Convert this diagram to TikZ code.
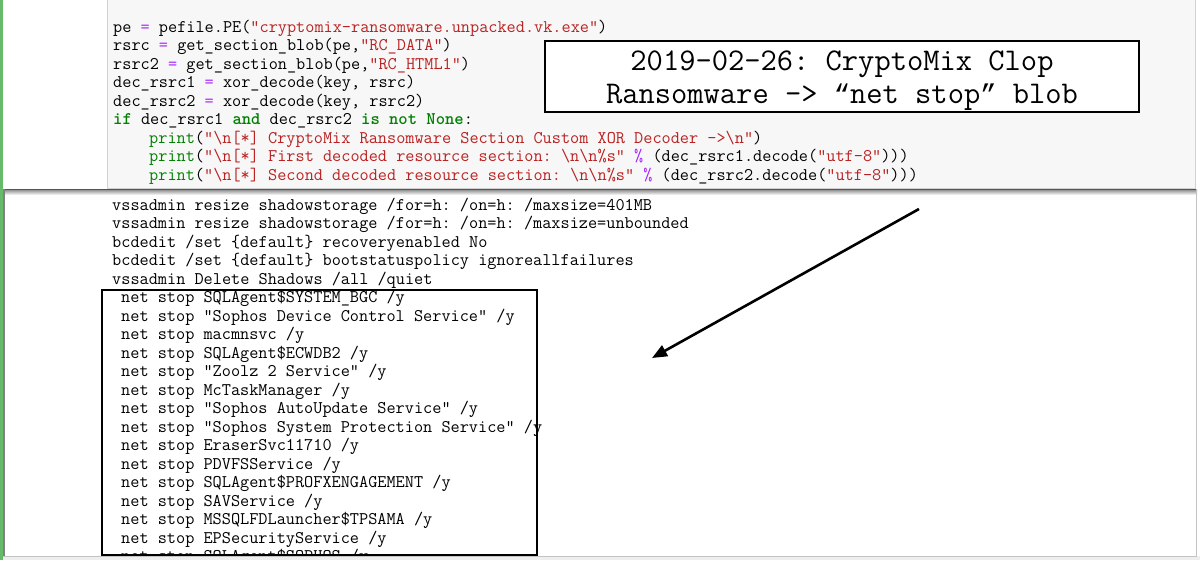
\documentclass[tikz,border=0pt]{standalone}
\usepackage{fontspec}
\newfontfamily\quotefont{Liberation Mono}
\usetikzlibrary{arrows.meta}

\definecolor{cellgreen}{RGB}{102,187,106}
\definecolor{inputbg}{RGB}{247,247,247}
\definecolor{inputline}{RGB}{210,210,210}
\definecolor{shadowdark}{RGB}{85,85,85}
\definecolor{shadowmid}{RGB}{130,130,130}
\definecolor{shadowlight}{RGB}{195,195,195}
\definecolor{stripgray}{RGB}{238,238,238}
\definecolor{pyop}{RGB}{170,34,255}
\definecolor{pystr}{RGB}{186,33,33}
\definecolor{pykw}{RGB}{0,128,0}

\newcommand{\pyop}[1]{\textcolor{pyop}{#1}}
\newcommand{\pystr}[1]{\textcolor{pystr}{#1}}
\newcommand{\pykw}[1]{\textcolor{pykw}{\bfseries #1}}
\newcommand{\pyfn}[1]{\textcolor{pykw}{#1}}
\newcommand{\titlequote}[1]{{\quotefont\fontsize{27.1}{33}\selectfont #1}}

\tikzset{
  codeline/.style={anchor=base west, inner sep=0pt, font=\ttfamily\frenchspacing\fontsize{17.77}{18.5}\selectfont},
  outtext/.style={codeline, text=black},
  titletext/.style={anchor=base, inner sep=0pt, font=\ttfamily\frenchspacing\fontsize{31.6}{33}\selectfont},
  boxline/.style={draw=black, line width=2.7pt},
  pointer/.style={-{Triangle[length=15pt,width=12pt]}, line width=2.6pt}
}

\begin{document}
\begin{tikzpicture}[x=1pt,y=-1pt]
\useasboundingbox (0,0) rectangle (1200,560);
\fill[white] (0,0) rectangle (1200,560);

%notebook cell: green bar, input area, output area
\fill[cellgreen] (0,0) rectangle (2.5,560);
\filldraw[fill=inputbg, draw=inputline] (107,-2) rectangle (1195,188);
\fill[white] (3,189) rectangle (1197,556);
\shade[top color=shadowmid, bottom color=white] (3,189) rectangle (1197,195);
\draw[shadowdark, line width=1.4pt] (3,189.5) -- (1197,189.5);
\draw[shadowmid, line width=1.5pt] (4,189) -- (4,556);
\draw[shadowlight, line width=1pt] (1196.5,189) -- (1196.5,556);
\fill[stripgray] (3,556) rectangle (1200,560);
\draw[shadowlight] (3,556) -- (1197,556);

%input code
\node[codeline] (pe) at (113,32) {pe \pyop{=} pefile.PE(\pystr{"cryptomix-ransomware.unpacked.vk.exe"})};
\node[codeline] (rsrc) at (113,50.5) {rsrc \pyop{=} get\_section\_blob(pe,\pystr{"RC\_DATA"})};
\node[codeline] (rsrctwo) at (113,69) {rsrc2 \pyop{=} get\_section\_blob(pe,\pystr{"RC\_HTML1"})};
\node[codeline] (decone) at (113,87.5) {dec\_rsrc1 \pyop{=} xor\_decode(key, rsrc)};
\node[codeline] (dectwo) at (113,106) {dec\_rsrc2 \pyop{=} xor\_decode(key, rsrc2)};
\node[codeline] (ifline) at (113,124.5) {\pykw{if} dec\_rsrc1 \pykw{and} dec\_rsrc2 \pykw{is not None}:};
\node[codeline] (printone) at (149,143) {\pyfn{print}(\pystr{"\textbackslash n[*] CryptoMix Ransomware Section Custom XOR Decoder ->\textbackslash n"})};
\node[codeline] (printtwo) at (149,161.5) {\pyfn{print}(\pystr{"\textbackslash n[*] First decoded resource section: \textbackslash n\textbackslash n\%s"} \pyop{\%} (dec\_rsrc1.decode(\pystr{"utf-8"})))};
\node[codeline] (printthree) at (149,180) {\pyfn{print}(\pystr{"\textbackslash n[*] Second decoded resource section: \textbackslash n\textbackslash n\%s"} \pyop{\%} (dec\_rsrc2.decode(\pystr{"utf-8"})))};

%title box
\draw[boxline, fill=white] (545,41) rectangle (1139,112);
\node[titletext] (titleone) at (842,70) {2019-02-26: CryptoMix Clop};
\node[titletext] (titletwo) at (842,103) {Ransomware -> \titlequote{“}net stop\titlequote{”} blob};

%decoded output
\node[outtext] (vssone) at (112,210) {vssadmin resize shadowstorage /for=h: /on=h: /maxsize=401MB};
\node[outtext] (vsstwo) at (112,228.5) {vssadmin resize shadowstorage /for=h: /on=h: /maxsize=unbounded};
\node[outtext] (bcdone) at (112,247) {bcdedit /set \{default\} recoveryenabled No};
\node[outtext] (bcdtwo) at (112,265.5) {bcdedit /set \{default\} bootstatuspolicy ignoreallfailures};
\node[outtext] (vssdel) at (112,284) {vssadmin Delete Shadows /all /quiet};
\node[outtext] (net1) at (121,302.5) {net stop SQLAgent\$SYSTEM\_BGC /y};
\node[outtext] (net2) at (121,321) {net stop "Sophos Device Control Service" /y};
\node[outtext] (net3) at (121,339.5) {net stop macmnsvc /y};
\node[outtext] (net4) at (121,358) {net stop SQLAgent\$ECWDB2 /y};
\node[outtext] (net5) at (121,376.5) {net stop "Zoolz 2 Service" /y};
\node[outtext] (net6) at (121,395) {net stop McTaskManager /y};
\node[outtext] (net7) at (121,413.5) {net stop "Sophos AutoUpdate Service" /y};
\node[outtext] (net8) at (121,432) {net stop "Sophos System Protection Service" /y};
\node[outtext] (net9) at (121,450.5) {net stop EraserSvc11710 /y};
\node[outtext] (net10) at (121,469) {net stop PDVFSService /y};
\node[outtext] (net11) at (121,487.5) {net stop SQLAgent\$PROFXENGAGEMENT /y};
\node[outtext] (net12) at (121,506) {net stop SAVService /y};
\node[outtext] (net13) at (121,524.5) {net stop MSSQLFDLauncher\$TPSAMA /y};
\node[outtext] (net14) at (121,543) {net stop EPSecurityService /y};
\begin{scope}
\clip (3,190) rectangle (1197,554);
\node[outtext] (net15) at (121,561.5) {net stop SQLAgent\$SOPHOS /y};
\end{scope}

%box round the net stop lines, and the arrow
\draw[boxline] (102,290) rectangle (537,555);
\coordinate (arrowtail) at (919,209);
\coordinate (arrowtip) at (652,358);
\draw[pointer] (arrowtail) -- (arrowtip);

\end{tikzpicture}
\end{document}
